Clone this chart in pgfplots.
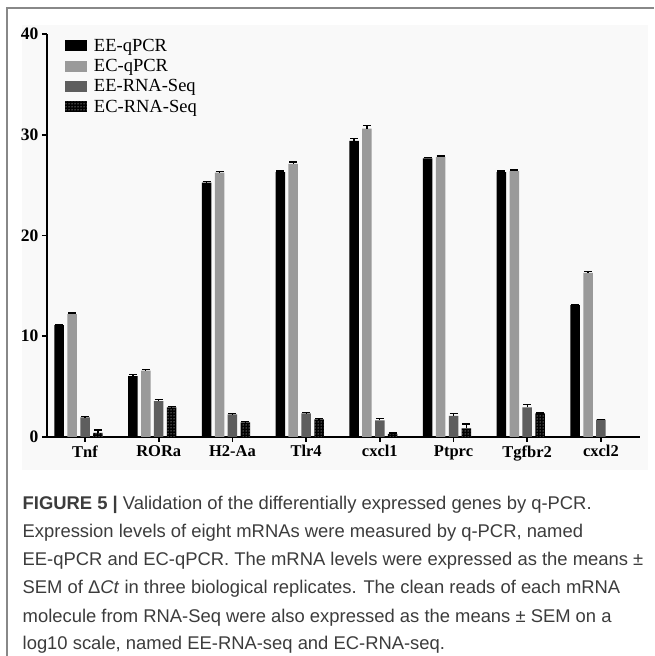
\documentclass[border=0pt]{standalone}
\usepackage{fontspec}
\setmainfont{Liberation Serif}
\newfontfamily\capfont{Liberation Sans}
\usepackage{pgfplots}
\pgfplotsset{compat=1.18}
\usetikzlibrary{patterns}
\definecolor{ltgray}{HTML}{9A9A9A}
\definecolor{dkgray}{HTML}{5E5E5E}
\definecolor{frame}{HTML}{888888}
\definecolor{captxt}{HTML}{3C3C3C}
\definecolor{panelbg}{HTML}{F9F9F9}
\begin{document}
\begin{tikzpicture}
\useasboundingbox (0,0) rectangle (654pt,656pt);
\fill[white] (0,0) rectangle (654pt,656pt);
\fill[panelbg] (22pt,186pt) rectangle (648pt,631pt);
\draw[line width=2pt, frame] (7pt,0) -- (7pt,648pt) -- (654pt,648pt);
\begin{axis}[
  at={(47pt,219pt)}, anchor=south west,
  scale only axis, width=593pt, height=403pt,
  xmin=-0.516, xmax=7.53, ymin=0, ymax=40,
  axis x line*=bottom, axis y line*=left,
  axis line style={line width=1.6pt, -},
  xtick={0,...,7},
  xticklabels={Tnf,RORa,H2-Aa,Tlr4,cxcl1,Ptprc,Tgfbr2,cxcl2},
  ytick={0,10,20,30,40},
  tick style={line width=1.6pt, black},
  major tick length=5pt, tick align=outside,
  /pgf/number format/assume math mode=true,
  xticklabel style={font=\fontsize{16.5}{18}\selectfont\bfseries},
  yticklabel style={font=\fontsize{17.5}{19}\selectfont\bfseries},
  ybar, bar width=0.129,
  legend style={at={(rel axis cs:0.03,0.993)}, anchor=north west, draw=none, fill=none,
    font=\fontsize{18.5}{20}\selectfont, row sep=2.5pt, inner sep=0pt,
    /tikz/every odd column/.append style={column sep=5pt}},
  legend cell align=left,
  legend image code/.code={\path[#1, draw=none] (0pt,-5.5pt) rectangle (22pt,5.5pt);},
  error bars/error bar style={draw=black, line width=1.2pt, solid},
  error bars/error mark options={draw=black, rotate=90, mark size=4pt, line width=1.2pt},
]
\addplot[fill=black, draw=none, bar shift=-0.35,
  error bars/.cd, y dir=plus, y explicit]
  coordinates {(0,11.1) +- (0,0.1) (1,6.05) +- (0,0.15) (2,25.25) +- (0,0.1) (3,26.3) +- (0,0.1)
    (4,29.4) +- (0,0.2) (5,27.65) +- (0,0.1) (6,26.3) +- (0,0.1) (7,13.1) +- (0,0.05)};
\addlegendentry{EE-qPCR}
\addplot[fill=ltgray, draw=none, bar shift=-0.175,
  error bars/.cd, y dir=plus, y explicit]
  coordinates {(0,12.2) +- (0,0.1) (1,6.6) +- (0,0.1) (2,26.25) +- (0,0.1) (3,27.1) +- (0,0.2)
    (4,30.6) +- (0,0.3) (5,27.8) +- (0,0.1) (6,26.4) +- (0,0.1) (7,16.3) +- (0,0.1)};
\addlegendentry{EC-qPCR}
\addplot[fill=dkgray, draw=none, bar shift=0,
  error bars/.cd, y dir=plus, y explicit]
  coordinates {(0,1.96) +- (0,0.05) (1,3.55) +- (0,0.2) (2,2.25) +- (0,0.05) (3,2.35) +- (0,0.05)
    (4,1.65) +- (0,0.15) (5,2.1) +- (0,0.25) (6,2.95) +- (0,0.25) (7,1.72) +- (0,0.03)};
\addlegendentry{EE-RNA-Seq}
\addplot[fill=black, draw=none, bar shift=0.175, postaction={pattern=dots, pattern color=white},
  error bars/.cd, y dir=plus, y explicit]
  coordinates {(0,0.4) +- (0,0.3) (1,2.95) +- (0,0.05) (2,1.45) +- (0,0.05) (3,1.75) +- (0,0.05)
    (4,0.3) +- (0,0.1) (5,0.85) +- (0,0.45) (6,2.35) +- (0,0.03)};
\addlegendentry{EC-RNA-Seq}
\end{axis}
\begin{scope}[every node/.style={anchor=base west, inner sep=0pt, text=captxt,
    font=\capfont\fontsize{18.4}{22}\selectfont}]
\node at (22.5pt,{656pt-510pt}) {\textbf{FIGURE 5 |} Validation of the differentially expressed genes by q-PCR.};
\node at (22.5pt,{656pt-538pt}) {Expression levels of eight mRNAs were measured by q-PCR, named};
\node at (22.5pt,{656pt-566pt}) {EE-qPCR and EC-qPCR. The mRNA levels were expressed as the means ±};
\node at (22.5pt,{656pt-594pt}) {SEM of Δ\textit{Ct} in three biological replicates. The clean reads of each mRNA};
\node at (22.5pt,{656pt-622pt}) {molecule from RNA-Seq were also expressed as the means ± SEM on a};
\node at (22.5pt,{656pt-650pt}) {log10 scale, named EE-RNA-seq and EC-RNA-seq.};
\end{scope}
\end{tikzpicture}
\end{document}
